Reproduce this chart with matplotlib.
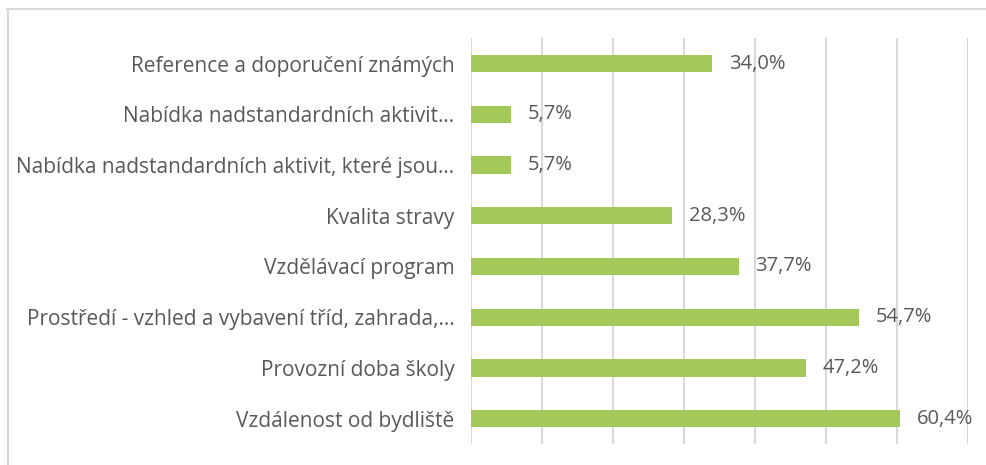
import matplotlib.pyplot as plt
from matplotlib.lines import Line2D

categories = [
    "Vzdálenost od bydliště",
    "Provozní doba školy",
    "Prostředí - vzhled a vybavení tříd, zahrada,…",
    "Vzdělávací program",
    "Kvalita stravy",
    "Nabídka nadstandardních aktivit, které jsou…",
    "Nabídka nadstandardních aktivit…",
    "Reference a doporučení známých",
]
values = [60.4, 47.2, 54.7, 37.7, 28.3, 5.7, 5.7, 34.0]

plt.rcParams['font.family'] = ['Open Sans', 'DejaVu Sans']
text_color = "#595959"

fig = plt.figure(figsize=(9.86, 4.65), dpi=100)
ax = fig.add_axes([0.4777, 0.045, 0.504, 0.873])

y = range(len(categories))
ax.barh(y, values, height=0.34, color="#A5C85A", zorder=3)
ax.set_xlim(0, 70)
ax.set_ylim(-0.5, len(categories) - 0.5)
ax.set_xticks(range(0, 71, 10))
ax.xaxis.grid(True, color="#d9d9d9", linewidth=1.5, zorder=0)
ax.tick_params(axis='x', length=0, labelbottom=False)
ax.tick_params(axis='y', length=0, pad=12, labelsize=15, labelcolor=text_color)
ax.set_yticks(list(y))
ax.set_yticklabels(categories)
for s in ax.spines.values():
    s.set_visible(False)

for i, v in enumerate(values):
    ax.annotate(f"{v:.1f}%".replace(".", ","), (v, i), xytext=(12, 0),
                textcoords="offset points", va="center", ha="left",
                fontsize=14.5, color=text_color)

# chart border (top and left visible)
fig.add_artist(Line2D([7 / 986, 1], [1 - 9.5 / 465, 1 - 9.5 / 465],
                      transform=fig.transFigure, color="#d9d9d9", linewidth=1.5))
fig.add_artist(Line2D([7.5 / 986, 7.5 / 986], [0, 1 - 9.5 / 465],
                      transform=fig.transFigure, color="#d9d9d9", linewidth=1.5))

fig.savefig("out.png", dpi=100)
